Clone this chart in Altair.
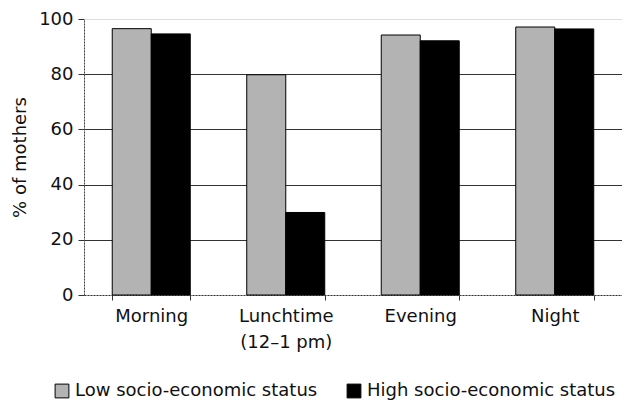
import altair as alt
import pandas as pd

categories = ["Morning", "Lunchtime|(12–1 pm)", "Evening", "Night"]
groups = ["Low socio-economic status", "High socio-economic status"]
low_values = [96.5, 79.8, 94.2, 97.1]
high_values = [94.6, 29.9, 92.1, 96.4]

rows = []
for c, lo, hi in zip(categories, low_values, high_values):
    rows.append({"time": c, "status": groups[0], "pct": lo})
    rows.append({"time": c, "status": groups[1], "pct": hi})
df = pd.DataFrame(rows)

FONT = "DejaVu Sans"
FS = 18

chart = alt.Chart(df).mark_bar(stroke="black", strokeWidth=1).encode(
    x=alt.X(
        "time:N",
        sort=categories,
        title=None,
        scale=alt.Scale(paddingInner=0.42, paddingOuter=0.21),
        axis=alt.Axis(
            labelAngle=0,
            labelExpr="split(datum.label, '|')",
            labelLineHeight=26,
            labelPadding=7,
            tickBand="extent",
            tickSize=5,
            tickColor="#333",
            domain=False,
            labelFontSize=FS,
            labelColor="#111",
            labelFont=FONT,
        ),
    ),
    xOffset=alt.XOffset("status:N", sort=groups, scale=alt.Scale(paddingInner=0, paddingOuter=0)),
    y=alt.Y(
        "pct:Q",
        title="% of mothers",
        scale=alt.Scale(domain=[0, 100]),
        axis=alt.Axis(
            values=[0, 20, 40, 60, 80, 100],
            grid=True,
            gridColor="#333",
            gridWidth=1,
            gridDash={"condition": {"test": "datum.value == 100 || datum.value == 0", "value": [2, 1]}, "value": []},
            gridOpacity={"condition": {"test": "datum.value == 100", "value": 0}, "value": 1},
            domainColor="#444",
            domainDash=[2, 1],
            tickSize=6,
            tickColor="#333",
            labelPadding=5,
            labelFontSize=FS,
            labelColor="#111",
            labelFont=FONT,
            titleFontSize=FS,
            titleFontWeight="normal",
            titleFont=FONT,
            titleColor="#111",
            titlePadding=9,
        ),
    ),
    fill=alt.Fill(
        "status:N",
        sort=groups,
        scale=alt.Scale(domain=groups, range=["#b3b3b3", "#000000"]),
        legend=alt.Legend(
            title=None,
            orient="none",
            legendX=-31,
            legendY=363,
            direction="horizontal",
            symbolType="square",
            symbolSize=190,
            symbolStrokeColor="black",
            symbolStrokeWidth=1,
            labelFontSize=FS,
            labelFont=FONT,
            labelColor="#111",
            labelLimit=0,
            columnPadding=27,
            labelOffset=4,
        ),
    ),
).properties(
    width=538,
    height=276,
    autosize=alt.AutoSizeParams(type="none"),
    padding={"left": 76, "top": 11, "right": 0, "bottom": 110},
).configure_view(
    stroke="#555",
    strokeDash=[2, 1],
    strokeWidth=1,
).configure(background="white")

chart.save("out.html", embed_options={"renderer": "svg", "actions": False})
